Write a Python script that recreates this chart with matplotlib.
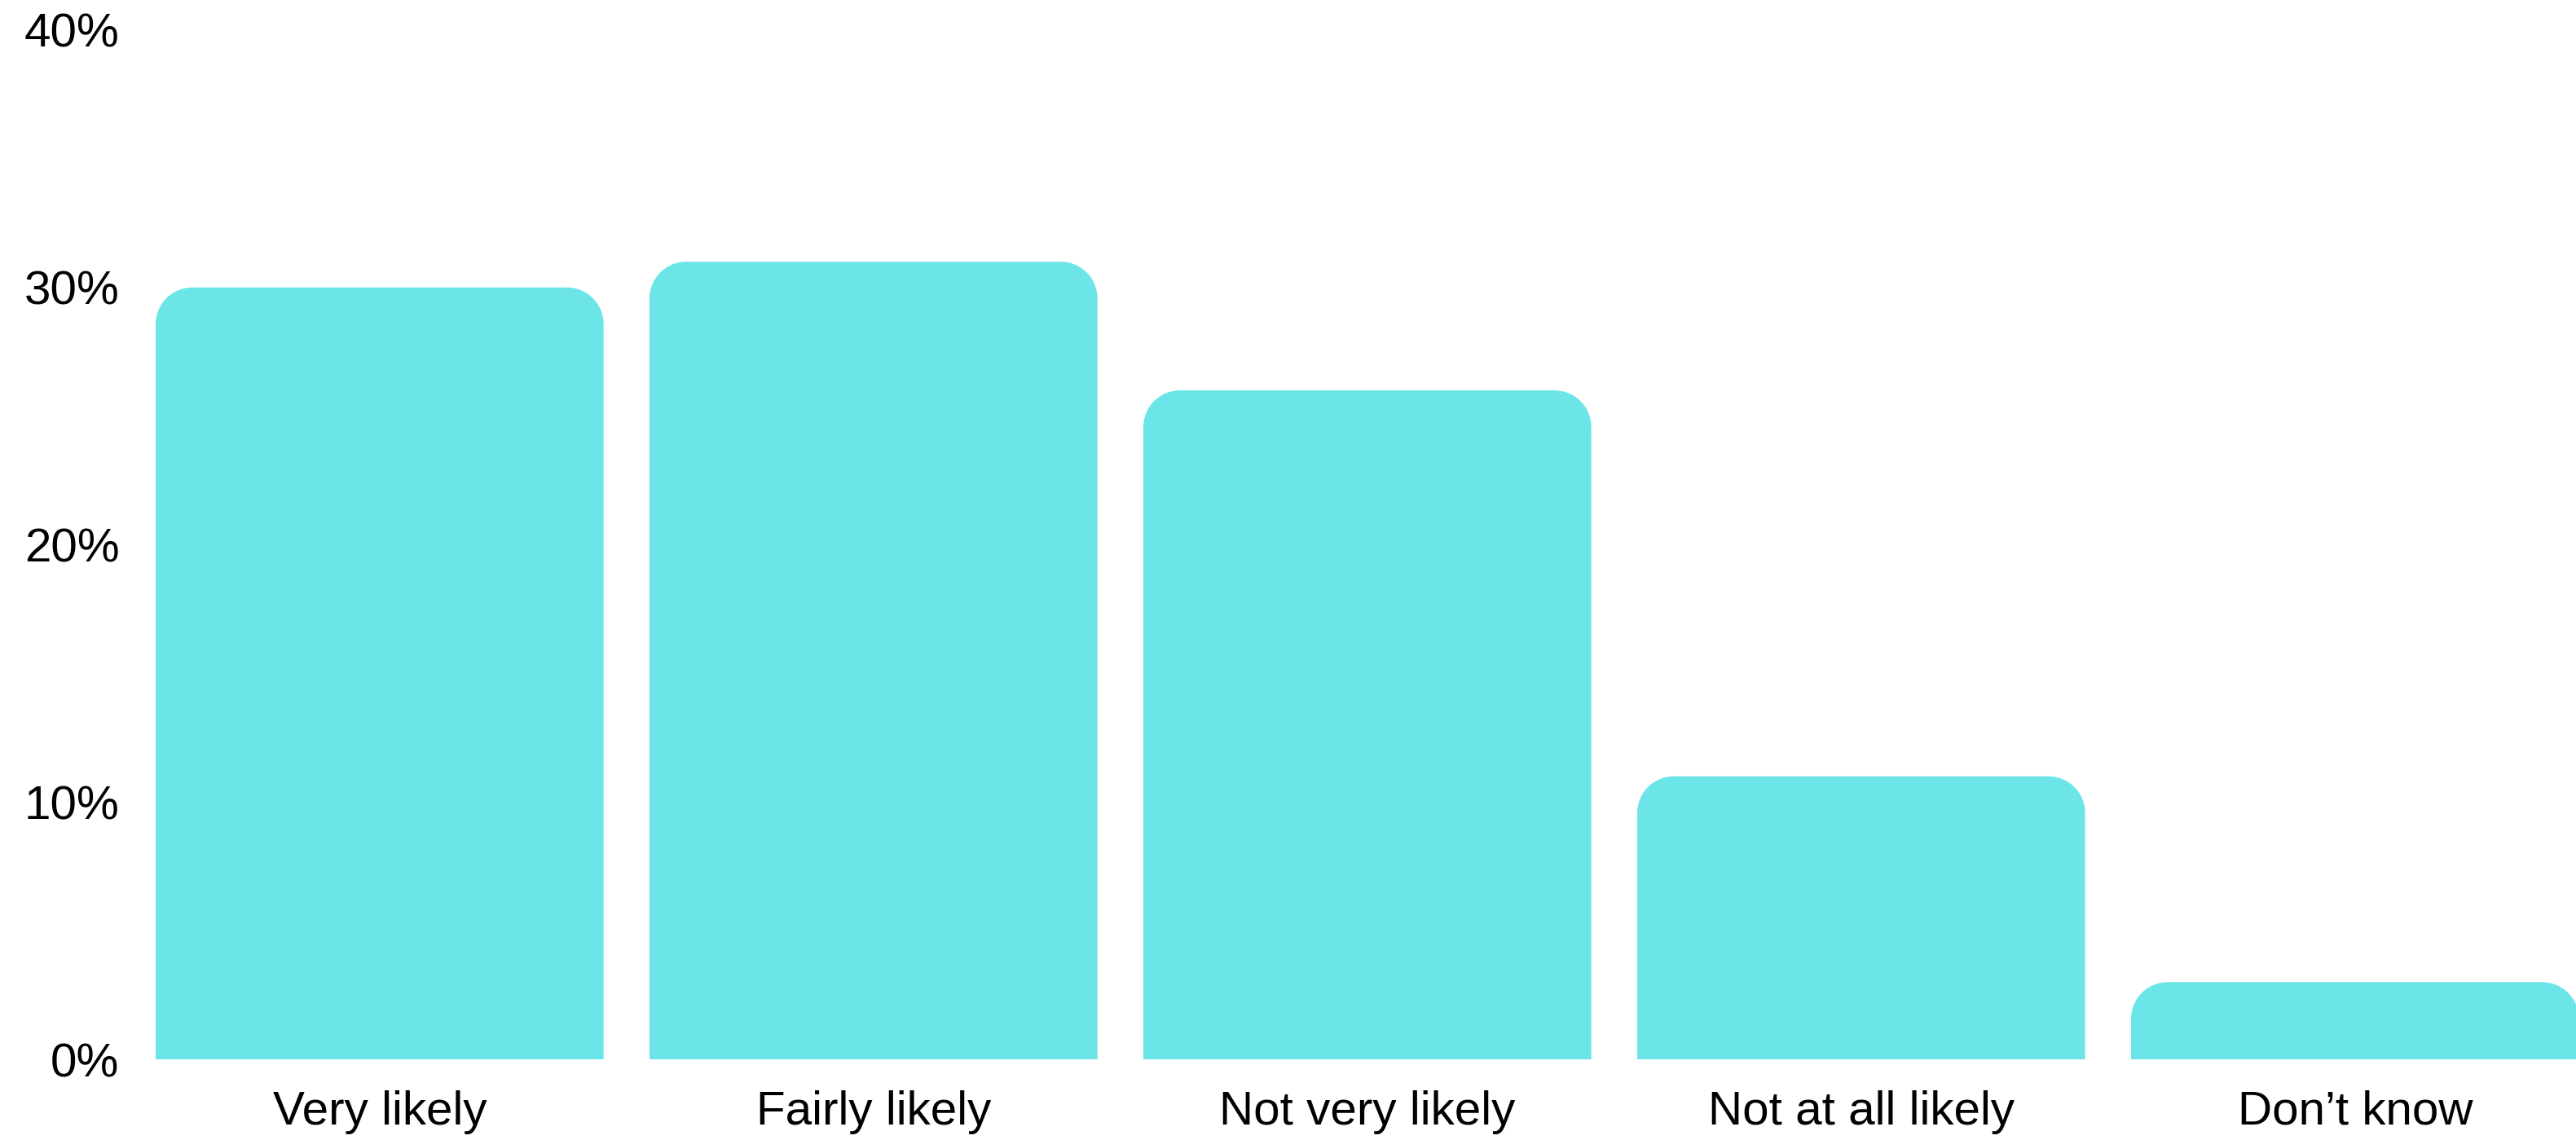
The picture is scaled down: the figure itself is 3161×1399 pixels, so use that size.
import matplotlib.pyplot as plt
import numpy as np
from matplotlib.path import Path
from matplotlib.patches import PathPatch

categories = ['Very likely', 'Fairly likely', 'Not very likely', 'Not at all likely', 'Don\u2019t know']
values = [30, 31, 26, 11, 3]
y_ticks = [0, 10, 20, 30, 40]
y_tick_labels = ['0%', '10%', '20%', '30%', '40%']

BAR_COLOR = '#6ce5e8'
W, H, DPI = 3161, 1399, 100
RADIUS_PX = 45

plt.rcParams['font.family'] = ['Liberation Sans', 'DejaVu Sans']

fig = plt.figure(figsize=(W / DPI, H / DPI), dpi=DPI)
left = 191 / W
bottom = 1 - 1300 / H
top = 1 - 37 / H
ax = fig.add_axes([left, bottom, 1 - left, top - bottom])

bar_width = 0.907
x = np.arange(len(categories))
ax.set_xlim(-bar_width / 2, -bar_width / 2 + (W - 191) / 606)
ax.set_ylim(0, 40)

bars = ax.bar(x, values, width=bar_width, color='none')


def rounded_top_patch(x0, w, h, rx, ry):
    ry = min(ry, h)
    t = np.linspace(0, np.pi / 2, 20)
    pts = [(x0, 0)]
    pts.append((x0, h - ry))
    for a in t:
        pts.append((x0 + rx - rx * np.cos(a), h - ry + ry * np.sin(a)))
    for a in t:
        pts.append((x0 + w - rx + rx * np.sin(a), h - ry + ry * np.cos(a)))
    pts.append((x0 + w, 0))
    pts.append((x0, 0))
    codes = [Path.MOVETO] + [Path.LINETO] * (len(pts) - 2) + [Path.CLOSEPOLY]
    return PathPatch(Path(pts, codes), facecolor=BAR_COLOR, edgecolor='none')


fig.canvas.draw()
bbox = ax.get_window_extent()
px_per_x = bbox.width / (ax.get_xlim()[1] - ax.get_xlim()[0])
px_per_y = bbox.height / (ax.get_ylim()[1] - ax.get_ylim()[0])
rx = RADIUS_PX / px_per_x
ry = RADIUS_PX / px_per_y

for b in bars:
    ax.add_patch(rounded_top_patch(b.get_x(), b.get_width(), b.get_height(), rx, ry))

ax.set_xticks(x)
ax.set_xticklabels(categories, fontsize=42)
ax.set_yticks(y_ticks)
ax.set_yticklabels(y_tick_labels, fontsize=42)
ax.tick_params(axis='both', length=0)
ax.tick_params(axis='x', pad=27)
ax.tick_params(axis='y', pad=32)
for s in ax.spines.values():
    s.set_visible(False)

fig.savefig('out.png', dpi=DPI)
